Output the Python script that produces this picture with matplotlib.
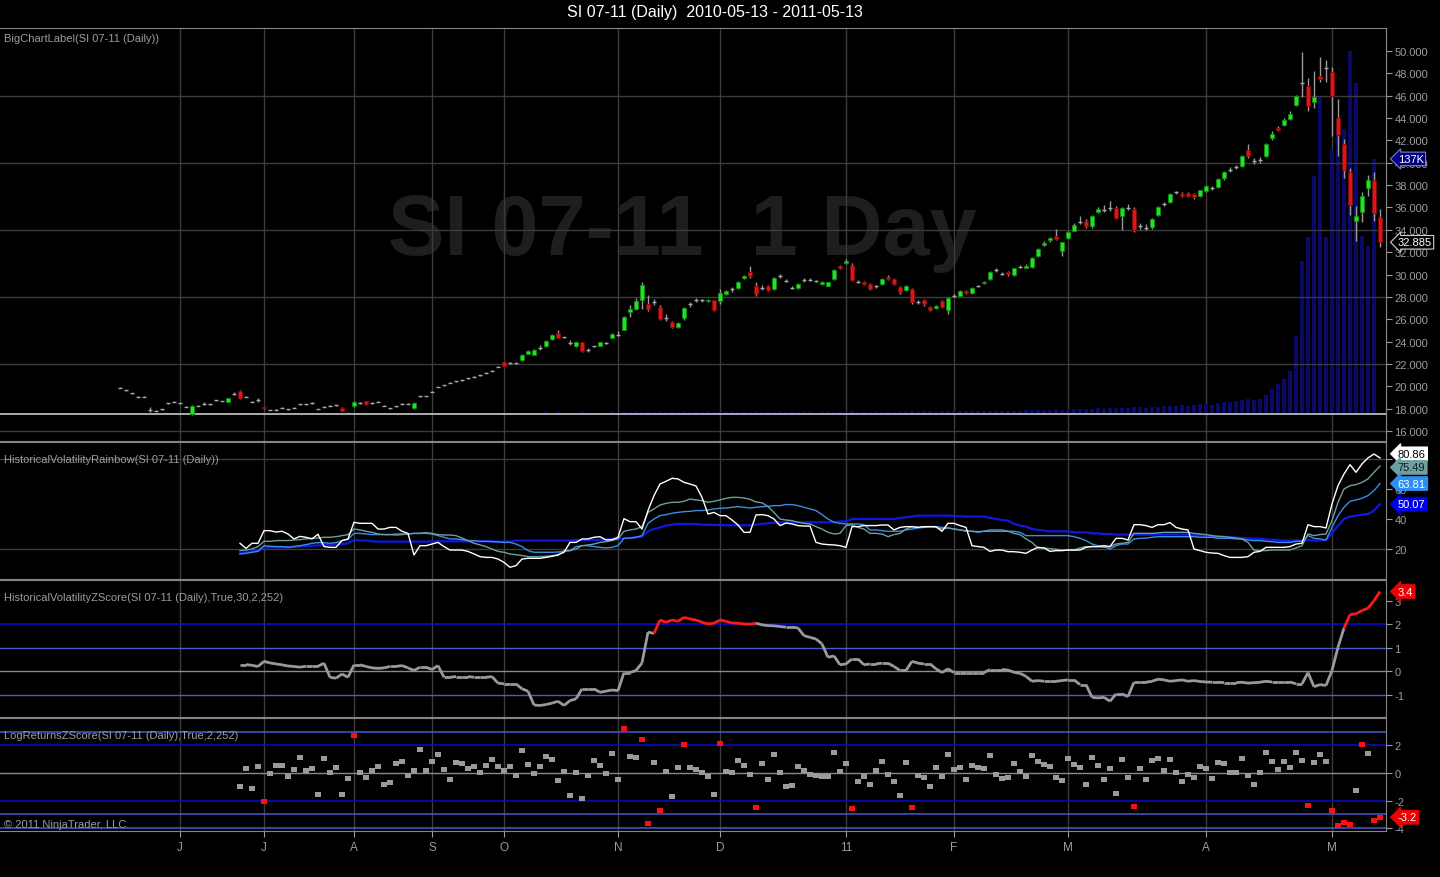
import matplotlib.pyplot as plt
import matplotlib.transforms as mtransforms
from matplotlib.collections import LineCollection

plt.rcParams['font.family'] = ['Liberation Sans', 'DejaVu Sans']
plt.rcParams['axes.unicode_minus'] = False

title = 'SI 07-11 (Daily)  2010-05-13 - 2011-05-13'
month_labels = ['J', 'J', 'A', 'S', 'O', 'N', 'D', '11', 'F', 'M', 'A', 'M']
month_bars = [10, 24, 39, 52, 64, 83, 100, 121, 139, 158, 181, 202]

# daily OHLC, one entry per bar
opens = [
    19.85, 19.64, 19.37, 19.04, 19.04, 17.90, 17.79, 17.97, 18.48, 18.59,
    18.48, 18.15, 17.50, 18.27, 18.44, 18.40, 18.74, 18.68, 18.62, 19.34,
    19.58, 19.07, 18.62, 18.80, 18.10, 17.88, 17.90, 18.08, 17.97, 18.08,
    18.39, 18.39, 18.50, 17.97, 18.17, 18.27, 18.30, 18.05, 17.63, 18.20,
    18.50, 18.68, 18.50, 18.62, 18.27, 18.03, 18.20, 18.44, 18.44, 18.03,
    19.13, 19.13, 19.52, 19.94, 20.10, 20.30, 20.45, 20.56, 20.70, 20.83,
    21.00, 21.20, 21.40, 21.75, 22.14, 22.10, 22.05, 22.38, 22.92, 22.83,
    23.43, 23.58, 24.23, 24.77, 24.38, 23.85, 23.58, 23.94, 23.27, 23.57,
    23.63, 23.90, 24.32, 24.62, 25.06, 26.62, 26.92, 27.75, 27.36, 27.50,
    27.06, 26.14, 25.72, 25.33, 26.08, 27.33, 27.69, 27.69, 27.60, 27.69,
    27.63, 28.30, 28.68, 28.80, 29.66, 30.20, 29.00, 28.82, 29.00, 28.70,
    29.84, 29.42, 28.82, 28.77, 29.48, 29.54, 29.42, 29.12, 29.00, 29.60,
    30.74, 31.00, 30.85, 29.36, 29.36, 29.12, 28.95, 29.18, 29.78, 29.60,
    28.88, 28.59, 28.70, 27.57, 27.75, 27.10, 26.98, 27.63, 26.80, 28.10,
    28.10, 28.53, 28.35, 29.00, 29.22, 29.60, 30.38, 30.08, 30.20, 29.96,
    30.67, 30.62, 30.67, 31.68, 32.64, 33.06, 33.48, 32.10, 33.24, 33.90,
    34.73, 34.79, 34.31, 35.57, 35.80, 35.98, 35.92, 35.20, 35.92, 35.86,
    34.31, 34.19, 34.22, 35.35, 36.28, 36.46, 37.36, 37.24, 37.30, 37.18,
    37.06, 37.47, 37.71, 37.83, 38.60, 39.38, 39.62, 39.68, 41.12, 40.13,
    40.22, 40.63, 42.19, 43.09, 43.38, 43.92, 45.17, 47.14, 46.90, 45.41,
    47.74, 48.50, 48.10, 43.98, 41.65, 39.15, 34.79, 35.62, 37.71, 38.48,
    35.15]
highs = [
    19.90, 19.70, 19.40, 19.10, 19.10, 18.10, 17.85, 18.00, 18.50, 18.65,
    18.50, 18.20, 18.35, 18.30, 18.60, 18.45, 18.80, 18.70, 18.95, 19.45,
    19.70, 19.10, 18.70, 18.95, 18.15, 17.90, 17.95, 18.10, 18.00, 18.10,
    18.40, 18.40, 18.55, 18.00, 18.20, 18.30, 18.35, 18.10, 17.65, 18.65,
    18.55, 18.72, 18.60, 18.65, 18.30, 18.05, 18.25, 18.50, 18.50, 18.55,
    19.15, 19.15, 19.55, 19.95, 20.15, 20.35, 20.50, 20.60, 20.75, 20.90,
    21.05, 21.25, 21.45, 21.80, 22.20, 22.15, 22.10, 22.85, 23.20, 23.30,
    23.65, 24.10, 24.65, 25.05, 24.45, 24.15, 24.00, 23.97, 23.40, 23.60,
    24.00, 23.95, 24.75, 24.90, 26.30, 27.30, 27.90, 29.30, 28.15, 27.80,
    27.30, 26.50, 25.80, 25.75, 27.10, 27.50, 27.90, 27.85, 27.80, 27.75,
    28.70, 28.60, 28.90, 29.40, 29.95, 30.80, 29.30, 29.10, 29.10, 29.75,
    30.05, 29.60, 29.00, 29.25, 29.65, 29.65, 29.55, 29.40, 29.35, 30.45,
    30.85, 31.35, 31.00, 29.50, 29.45, 29.20, 29.10, 29.70, 29.95, 29.65,
    28.95, 29.05, 28.80, 27.75, 27.80, 27.15, 27.25, 27.75, 28.00, 28.30,
    28.60, 28.60, 28.85, 29.10, 29.40, 30.35, 30.55, 30.25, 30.30, 30.60,
    30.85, 30.90, 31.60, 32.40, 33.00, 33.35, 34.10, 32.95, 33.85, 34.60,
    35.20, 35.00, 35.35, 36.00, 36.20, 36.60, 36.10, 36.00, 36.30, 36.00,
    34.60, 34.50, 35.05, 36.10, 36.45, 37.30, 37.50, 37.35, 37.40, 37.30,
    37.60, 38.00, 37.90, 38.60, 39.25, 39.60, 39.80, 40.70, 41.70, 40.40,
    40.50, 41.80, 42.80, 43.30, 44.00, 44.60, 46.10, 49.88, 47.60, 48.20,
    49.50, 49.20, 48.60, 45.70, 42.10, 39.50, 36.10, 37.40, 38.90, 39.20,
    35.90]
lows = [
    19.80, 19.60, 19.30, 19.00, 19.00, 17.70, 17.75, 17.90, 18.45, 18.55,
    18.45, 18.10, 17.45, 18.20, 18.35, 18.35, 18.70, 18.65, 18.58, 19.25,
    18.90, 19.00, 18.55, 18.60, 17.95, 17.85, 17.85, 18.05, 17.90, 18.05,
    18.35, 18.35, 18.45, 17.95, 18.10, 18.25, 18.25, 17.75, 17.60, 18.15,
    18.45, 18.35, 18.40, 18.60, 18.25, 17.98, 18.15, 18.40, 18.40, 18.00,
    19.05, 19.10, 19.45, 19.90, 20.05, 20.25, 20.40, 20.50, 20.65, 20.80,
    20.95, 21.15, 21.35, 21.70, 21.80, 22.00, 21.95, 22.30, 22.85, 22.78,
    23.20, 23.50, 24.15, 24.30, 24.30, 23.70, 23.50, 23.10, 23.05, 23.50,
    23.60, 23.80, 24.28, 24.50, 25.00, 26.20, 26.80, 26.90, 26.70, 27.30,
    25.90, 25.80, 25.20, 25.25, 25.95, 27.10, 27.55, 27.55, 27.50, 26.70,
    27.40, 28.20, 28.45, 28.70, 29.60, 29.70, 28.10, 28.60, 28.55, 28.60,
    29.70, 29.30, 28.70, 28.70, 29.35, 29.45, 29.30, 29.05, 28.95, 29.55,
    30.45, 30.90, 29.40, 29.20, 29.05, 28.60, 28.80, 29.10, 29.50, 29.10,
    28.30, 28.50, 27.40, 27.40, 27.20, 26.75, 26.90, 27.00, 26.50, 27.95,
    28.05, 28.25, 28.30, 28.90, 29.15, 29.55, 30.25, 29.95, 29.90, 29.90,
    30.55, 30.55, 30.60, 31.60, 32.55, 32.95, 33.10, 31.70, 33.15, 33.85,
    34.50, 34.20, 34.20, 35.50, 35.60, 35.70, 34.95, 34.00, 35.80, 33.80,
    34.10, 33.95, 34.10, 35.25, 36.10, 36.40, 37.20, 36.90, 36.90, 36.80,
    36.95, 37.40, 37.55, 37.75, 38.50, 39.20, 39.45, 39.60, 40.40, 39.90,
    40.00, 40.50, 42.05, 42.80, 43.30, 43.85, 45.05, 45.90, 44.60, 44.90,
    47.20, 47.20, 42.40, 40.60, 38.60, 35.30, 33.00, 34.70, 37.00, 34.80,
    32.50]
closes = [
    19.85, 19.64, 19.37, 19.04, 19.04, 17.90, 17.79, 17.97, 18.48, 18.59,
    18.48, 18.15, 18.27, 18.27, 18.44, 18.40, 18.74, 18.68, 18.92, 19.34,
    18.98, 19.07, 18.62, 18.80, 18.03, 17.88, 17.90, 18.08, 17.97, 18.08,
    18.39, 18.39, 18.50, 17.97, 18.17, 18.27, 18.30, 17.80, 17.63, 18.60,
    18.50, 18.40, 18.50, 18.62, 18.27, 18.03, 18.20, 18.44, 18.44, 18.50,
    19.13, 19.13, 19.52, 19.94, 20.10, 20.30, 20.45, 20.56, 20.70, 20.83,
    21.00, 21.20, 21.40, 21.75, 21.84, 22.10, 22.05, 22.80, 23.16, 23.25,
    23.43, 24.05, 24.59, 24.35, 24.38, 23.85, 23.94, 23.18, 23.27, 23.57,
    23.94, 23.90, 24.68, 24.62, 26.17, 26.92, 27.63, 29.06, 26.92, 27.50,
    26.02, 26.14, 25.33, 25.66, 26.98, 27.33, 27.69, 27.69, 27.70, 26.85,
    28.32, 28.50, 28.68, 29.30, 29.84, 29.84, 28.28, 28.82, 28.64, 29.66,
    29.84, 29.42, 28.82, 29.18, 29.48, 29.54, 29.42, 29.36, 29.30, 30.38,
    30.56, 31.20, 29.54, 29.36, 29.12, 28.70, 28.95, 29.60, 29.60, 29.18,
    28.41, 28.95, 27.51, 27.57, 27.33, 26.85, 27.16, 27.10, 27.92, 28.10,
    28.53, 28.35, 28.77, 29.00, 29.36, 30.26, 30.38, 30.08, 30.02, 30.56,
    30.67, 30.80, 31.50, 32.28, 32.82, 33.24, 33.18, 32.88, 33.78, 34.43,
    34.73, 34.31, 35.27, 35.86, 35.80, 35.98, 35.03, 35.92, 35.92, 34.00,
    34.31, 34.19, 34.97, 36.01, 36.28, 37.18, 37.36, 37.00, 37.06, 36.94,
    37.54, 37.90, 37.71, 38.55, 39.15, 39.38, 39.62, 40.58, 40.58, 40.13,
    40.22, 41.65, 42.55, 42.91, 43.86, 44.40, 46.00, 47.14, 45.05, 45.88,
    47.50, 48.50, 46.00, 42.48, 39.32, 36.22, 35.21, 37.05, 38.43, 35.50,
    32.885]
# volume in thousands of contracts
volume_k = [
    0.4, 0.3, 0.5, 0.4, 0.3, 0.6, 0.4, 0.5, 0.3, 0.4,
    0.5, 0.4, 0.8, 0.5, 0.4, 0.3, 0.5, 0.4, 0.6, 0.5,
    0.7, 0.5, 0.6, 0.4, 0.6, 0.5, 0.4, 0.5, 0.4, 0.6,
    0.5, 0.4, 0.5, 0.6, 0.5, 0.4, 0.5, 0.6, 0.5, 0.7,
    0.5, 0.6, 0.5, 0.4, 0.5, 0.6, 0.5, 0.4, 0.5, 0.7,
    0.6, 0.5, 0.6, 0.7, 0.6, 0.5, 0.6, 0.7, 0.6, 0.7,
    0.6, 0.7, 0.6, 0.8, 0.8, 0.7, 0.6, 0.8, 0.7, 0.8,
    0.7, 0.9, 0.8, 0.9, 0.7, 0.8, 0.7, 0.9, 0.8, 0.7,
    0.8, 0.7, 0.9, 0.8, 1.0, 1.1, 1.0, 1.3, 1.2, 1.0,
    1.1, 1.0, 1.1, 0.9, 1.0, 0.9, 1.0, 0.9, 1.0, 1.1,
    1.0, 0.9, 1.0, 1.1, 1.0, 1.2, 1.1, 1.0, 1.1, 1.0,
    0.9, 1.0, 1.1, 1.0, 0.9, 1.0, 0.8, 0.9, 1.0, 1.1,
    1.2, 1.3, 1.4, 1.2, 1.1, 1.2, 1.1, 1.3, 1.2, 1.1,
    1.3, 1.2, 1.5, 1.3, 1.4, 1.5, 1.3, 1.4, 1.6, 1.5,
    1.4, 1.5, 1.6, 1.5, 1.7, 1.8, 1.6, 1.7, 1.6, 1.8,
    1.7, 1.9, 2.0, 2.1, 2.2, 2.4, 2.6, 2.3, 2.5, 2.7,
    2.8, 2.6, 2.9, 3.0, 2.8, 3.1, 3.3, 3.0, 3.2, 3.8,
    3.5, 3.3, 3.6, 3.9, 4.1, 4.4, 4.2, 4.6, 4.3, 4.8,
    5.2, 5.6, 5.0, 6.1, 6.6, 6.4, 6.9, 7.4, 8.2, 7.6,
    8.1, 10.2, 13.4, 16.1, 18.8, 23.1, 41.9, 82.2, 95.0, 127.8,
    170.8, 95.0, 142.0, 156.0, 153.0, 195.0, 178.0, 95.6, 90.2, 137.0]

# indicators start at bar 20
ind_start = 20
hv_white = [
    24.0, 20.6, 24.0, 24.0, 32.4, 32.4, 31.5, 32.0, 30.2, 26.9,
    28.6, 28.0, 26.9, 30.0, 21.8, 21.3, 21.3, 25.8, 26.9, 38.0,
    37.3, 37.3, 37.3, 33.5, 33.5, 34.6, 34.6, 32.0, 30.6, 16.2,
    22.4, 22.4, 23.5, 24.6, 21.8, 19.5, 19.5, 19.5, 18.6, 16.9,
    15.1, 14.6, 14.6, 13.5, 11.3, 8.0, 9.1, 13.5, 14.0, 14.0,
    14.0, 14.6, 15.3, 16.4, 18.0, 24.6, 24.6, 26.9, 26.9, 28.0,
    28.4, 26.2, 26.4, 28.0, 40.4, 38.4, 38.4, 33.5, 45.8, 55.8,
    63.5, 65.3, 67.3, 66.9, 64.6, 63.5, 62.2, 54.6, 43.5, 44.6,
    42.4, 42.4, 39.5, 36.2, 31.3, 31.3, 42.9, 43.1, 42.4, 40.2,
    35.8, 37.5, 36.9, 35.8, 35.5, 35.5, 24.6, 23.5, 23.1, 22.9,
    22.4, 21.3, 35.1, 35.1, 35.8, 35.8, 35.8, 36.2, 36.2, 32.9,
    34.6, 35.1, 35.1, 34.6, 35.1, 35.1, 35.1, 32.0, 37.3, 37.3,
    35.8, 34.6, 22.4, 21.8, 21.3, 18.6, 19.5, 19.5, 18.4, 18.4,
    18.0, 17.3, 19.5, 21.3, 20.9, 18.6, 19.1, 19.1, 19.5, 19.5,
    19.5, 21.3, 21.8, 21.8, 22.4, 21.8, 27.3, 27.3, 26.2, 36.4,
    36.4, 35.8, 34.6, 36.4, 36.4, 37.8, 34.6, 33.5, 32.9, 20.2,
    19.1, 18.0, 17.5, 17.3, 15.8, 14.6, 14.6, 14.6, 15.1, 18.0,
    18.6, 21.3, 21.3, 21.3, 21.3, 21.8, 23.5, 24.0, 36.4, 35.1,
    35.1, 34.2, 50.2, 62.4, 70.2, 76.4, 71.3, 76.9, 80.9, 83.5,
    80.86]
hv_teal = [
    19.1, 19.5, 20.2, 21.8, 25.3, 25.3, 25.8, 25.8, 25.8, 26.2,
    26.4, 26.9, 27.3, 27.5, 28.0, 28.0, 28.4, 29.1, 29.8, 33.5,
    32.9, 32.0, 31.3, 30.2, 29.8, 29.8, 29.5, 29.8, 30.2, 30.6,
    30.6, 31.1, 30.6, 29.8, 29.5, 29.5, 29.1, 27.5, 25.8, 24.0,
    22.9, 21.8, 20.2, 18.6, 18.0, 16.9, 16.4, 15.8, 15.1, 15.1,
    15.1, 15.3, 15.8, 15.8, 19.1, 19.1, 20.2, 22.4, 22.9, 23.5,
    24.6, 25.1, 25.8, 26.9, 32.0, 32.9, 33.5, 35.1, 44.6, 46.9,
    49.5, 50.6, 51.3, 51.3, 52.0, 53.5, 52.9, 52.4, 51.3, 52.0,
    52.9, 54.0, 54.6, 54.6, 54.2, 53.3, 51.5, 51.0, 48.5, 44.5,
    40.2, 39.5, 39.1, 38.0, 37.3, 36.9, 35.1, 33.5, 31.3, 30.2,
    30.6, 35.8, 36.4, 34.6, 33.5, 30.6, 30.6, 30.2, 28.4, 29.8,
    30.6, 33.5, 35.1, 34.6, 34.6, 35.1, 34.6, 33.5, 34.2, 33.5,
    32.9, 32.4, 32.0, 31.8, 32.0, 32.0, 32.0, 32.0, 32.0, 30.6,
    29.8, 26.9, 24.6, 20.9, 20.9, 20.4, 20.0, 19.5, 19.5, 19.5,
    20.9, 21.8, 21.8, 21.8, 21.3, 21.8, 23.5, 24.0, 24.6, 30.6,
    30.6, 30.6, 30.6, 30.9, 31.3, 31.3, 31.3, 31.3, 31.3, 30.6,
    30.2, 29.8, 29.1, 28.6, 28.4, 28.0, 27.5, 26.9, 24.6, 19.5,
    19.1, 19.1, 19.5, 19.5, 19.5, 19.5, 20.9, 22.4, 30.2, 29.1,
    29.8, 30.2, 39.1, 51.3, 60.2, 62.4, 63.1, 64.6, 66.9, 71.3,
    75.49]
hv_light = [
    16.9, 17.3, 18.0, 18.6, 22.4, 22.0, 21.8, 21.8, 21.3, 21.8,
    22.4, 23.1, 24.0, 24.4, 24.4, 24.0, 24.4, 25.8, 26.6, 30.6,
    30.6, 30.2, 29.8, 29.8, 29.8, 29.8, 30.2, 30.2, 30.2, 30.6,
    30.6, 30.6, 30.2, 29.1, 28.0, 26.9, 26.9, 26.4, 25.8, 25.8,
    25.3, 25.3, 25.1, 24.9, 24.6, 24.6, 23.5, 21.8, 19.1, 18.0,
    18.0, 18.0, 18.0, 18.2, 18.6, 19.1, 21.8, 22.4, 22.4, 21.8,
    21.3, 20.9, 21.3, 22.4, 27.3, 27.5, 28.0, 29.1, 37.3, 40.2,
    42.4, 43.1, 44.0, 44.6, 45.1, 45.3, 45.8, 45.8, 46.2, 46.9,
    47.3, 47.5, 48.0, 48.4, 48.0, 47.5, 48.0, 48.4, 48.6, 49.1,
    49.1, 49.8, 49.8, 49.1, 48.0, 46.9, 45.8, 43.1, 40.2, 38.0,
    37.3, 36.9, 36.9, 36.9, 36.4, 32.9, 32.9, 32.4, 32.0, 32.0,
    32.0, 32.9, 33.5, 34.2, 34.6, 35.1, 35.1, 34.6, 34.2, 33.5,
    32.9, 32.0, 32.0, 31.3, 32.0, 32.9, 32.9, 32.9, 32.0, 32.0,
    31.3, 29.1, 29.1, 29.1, 29.1, 29.1, 29.1, 29.1, 29.1, 28.4,
    27.3, 25.8, 23.5, 22.4, 21.8, 20.2, 22.4, 23.5, 23.5, 26.9,
    27.3, 27.5, 28.0, 28.4, 28.4, 28.4, 28.4, 28.4, 28.4, 28.4,
    28.0, 28.0, 28.0, 27.3, 27.3, 27.3, 26.9, 26.9, 26.2, 25.8,
    25.8, 25.3, 25.1, 24.6, 24.6, 24.6, 25.3, 25.3, 29.1, 27.3,
    26.9, 26.2, 34.6, 42.4, 48.0, 52.0, 52.9, 54.0, 55.8, 59.1,
    63.81]
hv_blue = [
    17.3, 18.0, 18.6, 19.1, 21.3, 21.3, 21.3, 21.3, 21.3, 21.8,
    21.8, 22.2, 22.4, 22.6, 22.9, 22.9, 23.1, 23.5, 24.0, 26.2,
    25.8, 25.8, 25.3, 25.1, 25.1, 25.1, 25.1, 25.1, 25.1, 25.1,
    25.1, 25.1, 25.1, 25.3, 25.3, 25.3, 25.3, 25.3, 25.3, 25.3,
    25.3, 25.3, 25.3, 25.1, 25.1, 25.1, 25.8, 25.8, 25.8, 25.8,
    25.8, 25.8, 25.8, 25.8, 25.8, 25.8, 26.2, 26.2, 26.2, 26.2,
    26.4, 26.6, 26.9, 27.1, 27.3, 27.5, 28.0, 28.4, 32.0, 33.5,
    34.6, 35.8, 36.4, 36.9, 36.9, 36.9, 36.9, 36.4, 36.4, 36.2,
    36.2, 36.0, 36.0, 36.0, 36.0, 36.0, 36.4, 36.9, 37.3, 37.8,
    38.0, 38.0, 38.0, 38.0, 38.0, 38.0, 38.0, 38.0, 38.0, 38.0,
    38.6, 38.6, 40.2, 40.2, 40.2, 40.2, 40.2, 40.2, 40.2, 40.2,
    40.9, 41.3, 41.8, 42.4, 42.4, 42.4, 42.4, 42.4, 42.4, 42.2,
    42.0, 41.8, 41.8, 41.8, 41.8, 40.9, 40.2, 39.5, 39.1, 36.9,
    35.8, 35.1, 33.5, 32.9, 32.4, 32.0, 32.0, 32.0, 32.0, 31.3,
    31.3, 31.3, 30.6, 30.6, 30.2, 30.2, 29.8, 29.8, 29.8, 29.8,
    29.8, 29.8, 29.8, 29.8, 29.8, 29.8, 29.8, 29.8, 29.8, 29.5,
    29.1, 28.9, 28.9, 28.6, 28.4, 28.0, 27.8, 27.5, 27.3, 27.1,
    26.9, 26.6, 26.4, 26.2, 25.8, 25.8, 25.8, 25.8, 26.2, 25.8,
    25.8, 26.2, 30.6, 35.8, 40.2, 41.8, 42.4, 43.1, 43.5, 45.8,
    50.07]
hv_zscore = [
    0.29, 0.29, 0.26, 0.21, 0.43, 0.36, 0.32, 0.28, 0.23, 0.21,
    0.18, 0.22, 0.22, 0.22, 0.35, -0.25, -0.29, -0.11, -0.25, 0.28,
    0.28, 0.21, 0.15, 0.13, 0.15, 0.21, 0.21, 0.25, 0.15, 0.04,
    0.18, 0.18, 0.08, 0.25, -0.25, -0.25, -0.22, -0.22, -0.22, -0.25,
    -0.25, -0.25, -0.22, -0.50, -0.53, -0.53, -0.53, -0.74, -0.84, -1.43,
    -1.45, -1.41, -1.35, -1.27, -1.45, -1.24, -1.17, -0.74, -0.74, -0.74,
    -0.89, -0.84, -0.79, -0.82, -0.05, -0.05, 0.04, 0.36, 1.67, 1.62,
    2.19, 2.09, 2.19, 2.13, 2.30, 2.23, 2.19, 2.09, 2.02, 2.05,
    2.19, 2.13, 2.06, 2.05, 2.02, 2.01, 2.05, 1.98, 1.95, 1.94,
    1.91, 1.88, 1.88, 1.85, 1.52, 1.45, 1.38, 1.17, 0.60, 0.66,
    0.28, 0.32, 0.53, 0.53, 0.28, 0.32, 0.32, 0.35, 0.35, 0.21,
    0.04, 0.04, 0.43, 0.35, 0.32, 0.32, 0.11, -0.05, 0.11, -0.05,
    -0.05, -0.05, -0.05, -0.05, -0.05, 0.08, 0.08, 0.08, 0.06, -0.04,
    -0.08, -0.21, -0.42, -0.39, -0.42, -0.42, -0.42, -0.39, -0.36, -0.36,
    -0.56, -0.56, -1.10, -1.13, -1.10, -1.27, -0.96, -0.96, -1.07, -0.46,
    -0.46, -0.46, -0.42, -0.33, -0.36, -0.42, -0.39, -0.36, -0.42, -0.39,
    -0.43, -0.45, -0.46, -0.46, -0.48, -0.48, -0.48, -0.46, -0.50, -0.48,
    -0.46, -0.42, -0.45, -0.45, -0.45, -0.45, -0.53, -0.53, -0.05, -0.65,
    -0.56, -0.60, 0.04, 1.03, 1.84, 2.42, 2.45, 2.59, 2.69, 3.01,
    3.40]
logret_z = [
    -0.97, 0.34, -1.11, 0.46, -2.05, 0.00, 0.56, 0.56, -0.24, 0.27,
    1.14, 0.19, 0.34, -1.55, 1.06, 0.05, 0.41, -1.55, -0.39, 2.75,
    0.05, -0.31, 0.19, 0.48, -0.82, -0.68, 0.70, 0.85, -0.17, 0.19,
    1.71, 0.19, 0.85, 1.35, 0.27, -0.46, 0.77, 0.70, 0.34, 0.48,
    0.05, 0.56, 0.99, 0.48, 0.19, 0.48, -0.17, 1.64, 0.63, -0.02,
    0.48, 1.21, 0.99, -0.53, 0.12, -1.62, 0.05, -1.84, -0.17, 0.92,
    0.56, -0.02, 1.43, -0.46, 3.24, 1.21, 1.14, 2.44, -3.65, 0.77,
    -2.71, 0.12, -1.69, 0.41, 2.08, 0.41, 0.27, 0.05, -0.24, -1.55,
    2.15, 0.12, 0.05, 0.92, 0.56, -0.10, -2.49, 0.70, -0.46, 1.35,
    0.05, -0.97, -0.89, 0.46, 0.19, -0.10, -0.17, -0.24, -0.24, 1.50,
    0.12, 0.70, -2.56, -0.60, -0.24, -0.82, 0.19, 0.85, -0.10, -0.60,
    -1.62, 0.77, -2.49, -0.17, -0.31, -0.97, 0.41, -0.24, 1.35, 0.27,
    0.41, -0.46, 0.56, 0.41, 0.34, 1.28, -0.10, -0.39, -0.31, 0.70,
    0.12, -0.24, 1.28, 0.85, 0.63, 0.48, -0.31, -0.53, 1.06, 0.63,
    0.41, -0.82, 1.14, 0.56, -0.46, 0.34, -1.47, 0.99, -0.31, -2.42,
    0.34, -0.46, 0.92, 1.06, 0.19, 0.99, 0.05, -0.60, -0.10, -0.31,
    0.48, 0.34, -0.39, 0.77, 0.70, 0.05, 0.05, 1.06, -0.17, -0.82,
    0.05, 1.50, 0.85, 0.27, 0.85, 0.41, 1.50, 0.92, -2.34, 0.77,
    1.35, 0.85, -2.71, -3.80, -3.57, -3.72, -1.26, 2.05, 1.43, -3.43,
    -3.20]

bars = list(range(len(closes)))
ind_bars = list(range(ind_start, ind_start + len(hv_white)))

BG = 'black'
GRID = '#3c3c3c'
TXT = '#9c9c9c'
SEP = '#858585'
W, H = 1440, 878

fig = plt.figure(figsize=(W / 100, H / 100), dpi=100, facecolor=BG)


def panel(top_px, bottom_px, ylim):
    ax = fig.add_axes([0, 1 - bottom_px / H, 1386 / W, (bottom_px - top_px) / H])
    ax.set_facecolor(BG)
    ax.set_xlim(-20, 211)
    ax.set_ylim(*ylim)
    ax.set_xticks(month_bars)
    ax.grid(axis='x', color=GRID, lw=1)
    ax.set_axisbelow(True)
    for s in ('top', 'bottom', 'right'):
        ax.spines[s].set_color(SEP)
    ax.spines['left'].set_visible(False)
    ax.tick_params(axis='x', length=0, labelbottom=False)
    ax.yaxis.tick_right()
    ax.tick_params(axis='y', colors=TXT, labelsize=8, length=4, width=0.8, pad=2)
    return ax


def tag(ax, y, text, fc, tc, ec=None, ytrans=None, dy=0):
    tr = mtransforms.blended_transform_factory(ax.transAxes, ytrans or ax.transData)
    if dy:
        tr = mtransforms.offset_copy(tr, fig=fig, y=dy, units='points')
    ax.text(1.0085, y, text, transform=tr, ha='left', va='center', fontsize=8, color=tc,
            bbox=dict(boxstyle='larrow,pad=0.16', fc=fc, ec=ec or fc, lw=0.8),
            clip_on=False, zorder=10)


# ---- price panel: volume on the base axes, candles on a twin above it
ax1 = panel(29, 442, (-14.5, 207.3))
ax1.text(0.492, 0.453, 'SI 07-11  1 Day', transform=ax1.transAxes, ha='center',
         va='baseline', fontsize=61, fontweight='bold', color='#1e1e1e', zorder=0)
ax1.bar(bars[:len(volume_k)], volume_k, width=0.7, color='#0a0a66', zorder=2)
ax1.axhline(0, color='#c8c8c8', lw=1.2, zorder=3)

axp = ax1.twinx()
ax1.tick_params(axis='y', left=False, labelleft=False, right=False, labelright=False)
axp.set_ylim(15.10, 52.06)
for s in ('top', 'bottom', 'left'):
    axp.spines[s].set_visible(False)
axp.spines['right'].set_color(SEP)
axp.set_yticks(range(16, 51, 2), [f'{v:.3f}' for v in range(16, 51, 2)])
axp.tick_params(axis='y', colors=TXT, labelsize=8, length=4, width=0.8, pad=2)
for v in range(16, 47, 6):
    axp.axhline(v, color=GRID, lw=1, zorder=0)

axp.vlines(bars, lows, highs, color='#9a9a9a', lw=1, zorder=3)
up = [i for i in bars if closes[i] > opens[i]]
dn = [i for i in bars if closes[i] < opens[i]]
dj = [i for i in bars if closes[i] == opens[i]]
axp.bar(up, [closes[i] - opens[i] for i in up], bottom=[opens[i] for i in up],
        width=0.7, color='#1ee61e', edgecolor='#138a13', lw=0.6, zorder=4)
axp.bar(dn, [opens[i] - closes[i] for i in dn], bottom=[closes[i] for i in dn],
        width=0.7, color='#e01414', edgecolor='#7a0a0a', lw=0.6, zorder=4)
axp.hlines([closes[i] for i in dj], [i - 0.35 for i in dj], [i + 0.35 for i in dj],
           color='#a8a8a8', lw=1, zorder=4)

tag(axp, closes[-1], f'{closes[-1]:.3f}', 'black', 'white', '#d0d0d0')
tag(axp, volume_k[-1], f'{volume_k[-1]:.0f}K', '#000080', 'white', '#8080c0',
    ytrans=ax1.transData)

# ---- historical volatility rainbow
ax2 = panel(443, 580, (0.2, 91.5))
ax2.set_yticks([20, 40, 60, 80])
for v in (20, 80):
    ax2.axhline(v, color=GRID, lw=1, zorder=0)
hv_styles = [(hv_blue, '#1018e0', 1.6), (hv_light, '#3a8ee6', 1.0),
             (hv_teal, '#6e9e9e', 1.0), (hv_white, '#ffffff', 1.0)]
for vals, col, lw in hv_styles:
    ax2.plot(ind_bars, vals, color=col, lw=lw, zorder=3)
tag(ax2, hv_white[-1], f'{hv_white[-1]:.2f}', '#ffffff', 'black', dy=3)
tag(ax2, hv_teal[-1], f'{hv_teal[-1]:.2f}', '#6e9e9e', '#102020', dy=-1)
tag(ax2, hv_light[-1], f'{hv_light[-1]:.2f}', '#2f8ff0', 'white')
tag(ax2, hv_blue[-1], f'{hv_blue[-1]:.2f}', '#0000ee', 'white')

# ---- volatility z-score
ax3 = panel(581, 718, (-1.94, 3.89))
ax3.set_yticks([-1, 0, 1, 2, 3])
ax3.axhline(2, color='#0a0ad0', lw=1.2, zorder=1)
ax3.axhline(1, color='#4a58cc', lw=1, zorder=1)
ax3.axhline(-1, color='#4a58cc', lw=1, zorder=1)
ax3.axhline(0, color='#8a8a8a', lw=1, zorder=1)
pts = list(zip(ind_bars, hv_zscore))
segs = [[pts[k], pts[k + 1]] for k in range(len(pts) - 1)]
seg_cols = ['#ff1a1a' if hv_zscore[k + 1] >= 2 else '#9a9a9a' for k in range(len(pts) - 1)]
ax3.add_collection(LineCollection(segs, colors=seg_cols, linewidths=2, zorder=3))
tag(ax3, hv_zscore[-1], f'{hv_zscore[-1]:.1f}', '#ee0000', 'white')

# ---- log returns z-score
ax4 = panel(719, 832, (-4.2, 3.99))
ax4.set_yticks([-4, -2, 0, 2])
for v, col in ((3, '#4a58cc'), (2, '#0a0ad0'), (-2, '#0a0ad0'), (-3, '#4a58cc'), (-4, '#4a58cc')):
    ax4.axhline(v, color=col, lw=1.1, zorder=1)
ax4.axhline(0, color='#8a8a8a', lw=1, zorder=1)
dot_cols = ['#ff1010' if abs(v) >= 2 else '#9a9a9a' for v in logret_z]
ax4.scatter(ind_bars, logret_z, marker='s', s=13, c=dot_cols, lw=0, zorder=3)
tag(ax4, logret_z[-1], f'{logret_z[-1]:.1f}', '#ee0000', 'white')
ax4.set_xticks(month_bars, month_labels)
ax4.tick_params(axis='x', length=4, colors=TXT, labelbottom=True, labelsize=8.5, pad=3)

# ---- texts
fig.text(714.5 / W, 1 - 13 / H, title, color='white', fontsize=11.5, ha='center', va='center')
labels = [(39, 'BigChartLabel(SI 07-11 (Daily))'),
          (460, 'HistoricalVolatilityRainbow(SI 07-11 (Daily))'),
          (598, 'HistoricalVolatilityZScore(SI 07-11 (Daily),True,30,2,252)'),
          (736, 'LogReturnsZScore(SI 07-11 (Daily),True,2,252)'),
          (825, '\u00a9 2011 NinjaTrader, LLC')]
for py, txt in labels:
    fig.text(4 / W, 1 - py / H, txt, color=TXT, fontsize=8, ha='left', va='center')

fig.savefig('out.png', dpi=100, facecolor=BG)
